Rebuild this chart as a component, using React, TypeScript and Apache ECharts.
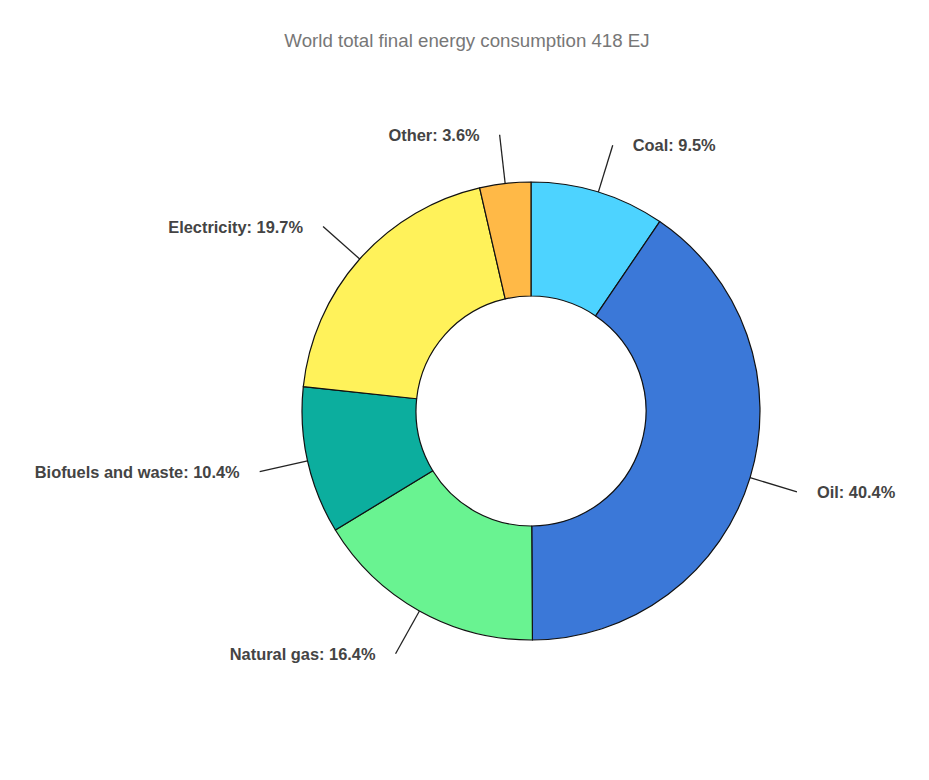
import React, { useEffect, useRef } from "react";
import * as echarts from "echarts";

const titleText = "World total final energy consumption 418 EJ";
const categories = ["Coal", "Oil", "Natural gas", "Biofuels and waste", "Electricity", "Other"];
const shares = [9.5, 40.4, 16.4, 10.4, 19.7, 3.6];
const colors = ["#4dd3ff", "#3b78d8", "#69f391", "#0cae9e", "#fff25a", "#ffb947"];

export default function App() {
  const ref = useRef<HTMLDivElement>(null);
  useEffect(() => {
    if (!ref.current) return;
    const chart = echarts.init(ref.current, undefined, { renderer: "svg" });
    chart.setOption({
      animation: false,
      backgroundColor: "#ffffff",
      title: {
        text: titleText,
        left: 462,
        textAlign: "center",
        top: 26,
        textStyle: {
          fontFamily: "Liberation Sans, Arial, sans-serif",
          fontSize: 18.7,
          fontWeight: "normal",
          color: "#777777",
        },
      },
      series: [
        {
          type: "pie",
          center: [531, 411],
          radius: [115, 229],
          startAngle: 90,
          clockwise: true,
          avoidLabelOverlap: false,
          data: categories.map((c, i) => ({
            name: c,
            value: shares[i],
            itemStyle: { color: colors[i] },
          })),
          itemStyle: { borderColor: "#111111", borderWidth: 1.2 },
          label: {
            show: true,
            position: "outside",
            formatter: (p: any) => `${p.name}: ${p.value}%`,
            fontFamily: "Liberation Sans, Arial, sans-serif",
            fontSize: 16.4,
            fontWeight: "bold",
            color: "#444444",
            distanceToLabelLine: 20,
          },
          labelLine: {
            show: true,
            length: 49,
            length2: 0,
            lineStyle: { color: "#222222", width: 1.3 },
          },
        },
      ],
    });
    return () => chart.dispose();
  }, []);
  return (
    <div
      ref={ref}
      style={{ position: "fixed", left: 0, top: 0, width: 929, height: 780 }}
    />
  );
}
